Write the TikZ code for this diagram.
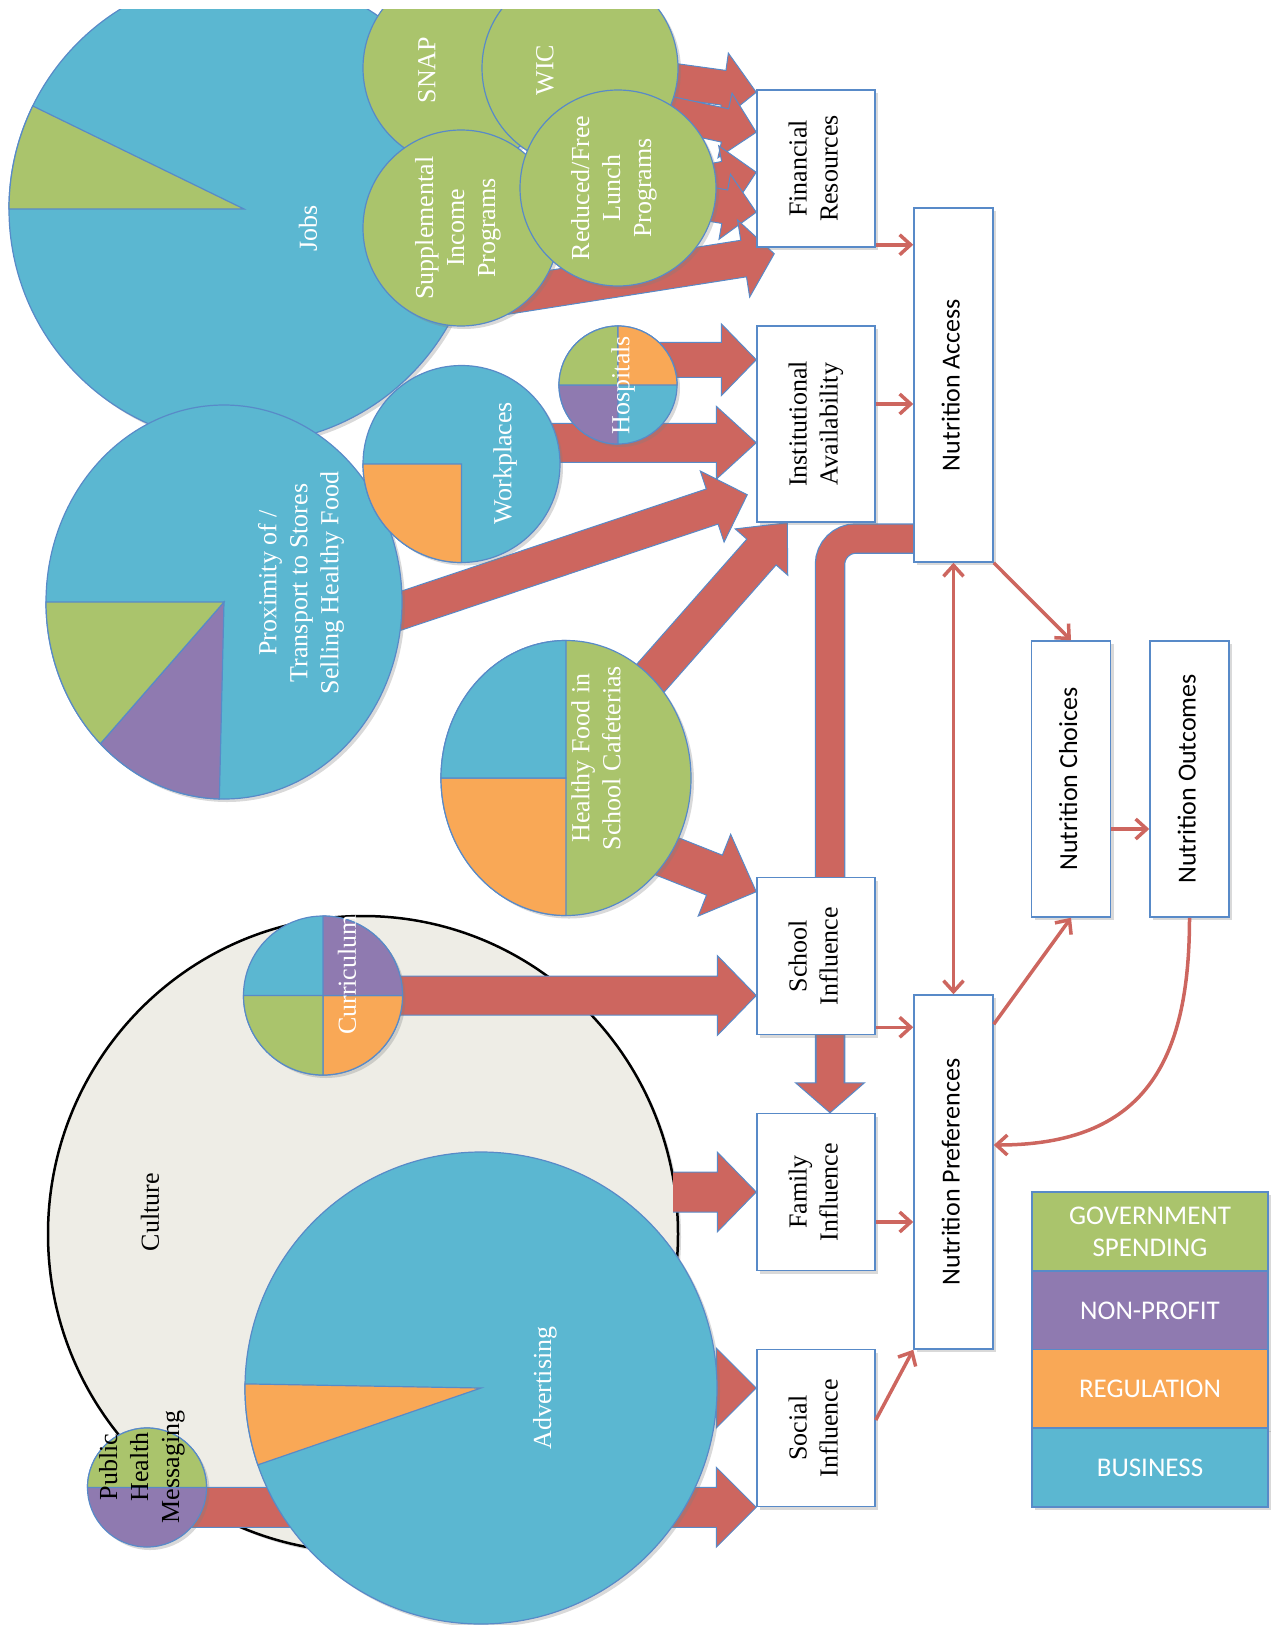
\documentclass[tikz,border=0pt]{standalone}
\usepackage{fontspec}
\setmainfont{Liberation Serif}
\newfontfamily\calfont{Carlito}
\usepackage{graphicx}
\usetikzlibrary{calc, shadows, arrows.meta}

\definecolor{bizblue}{RGB}{91,183,209}
\definecolor{govgreen}{RGB}{170,196,108}
\definecolor{npurple}{RGB}{143,122,176}
\definecolor{regorange}{RGB}{249,168,86}
\definecolor{flowred}{RGB}{205,102,95}
\definecolor{edgeblue}{RGB}{88,138,200}
\definecolor{culturegray}{RGB}{238,237,230}

\pgfdeclarelayer{base}
\pgfdeclarelayer{flows}
\pgfdeclarelayer{pies}
\pgfsetlayers{base,flows,pies,main}

\tikzset{shadowed/.style={drop shadow={opacity=.3, shadow xshift=3pt, shadow yshift=-3pt}}}

\newcommand{\vtext}[1]{\rotatebox{90}{\begin{tabular}{@{}c@{}}#1\end{tabular}}}

% tail, tip, shaft half width, head half width, head length
\newcommand{\blockarrow}[5]{%
  \coordinate (ba) at ($(#2)!#5pt!(#1)$);
  \filldraw[flow] ($(#1)!#3pt!90:(#2)$) -- ($(ba)!#3pt!90:(#2)$)
    -- ($(ba)!#4pt!90:(#2)$) -- (#2) -- ($(ba)!#4pt!-90:(#2)$)
    -- ($(ba)!#3pt!-90:(#2)$) -- ($(#1)!#3pt!-90:(#2)$);
}

\begin{document}
\begin{tikzpicture}[x=1pt, y=-1pt, font=\fontsize{26}{31}\selectfont,
  box/.style={draw=edgeblue, line width=1.5pt, fill=white, inner sep=0pt, minimum width=118pt, minimum height=157pt, shadowed},
  nbox/.style={box, minimum width=79pt, font=\calfont\fontsize{26}{31}\selectfont},
  key/.style={draw=edgeblue, line width=1.5pt, text=white, inner sep=0pt, minimum width=236pt, minimum height=79pt, align=center, shadowed, font=\calfont\fontsize{27}{32}\selectfont},
  pie/.style={draw=edgeblue, line width=1.2pt},
  pielabel/.style={text=white, rotate=90, align=center},
  flow/.style={fill=flowred, draw=edgeblue, line width=1pt},
  link/.style={draw=flowred, line width=3.5pt, ->},
  >={Straight Barb[length=11pt, width=20pt]}]
\useasboundingbox (0,0) rectangle (1273,1625);

\node[box] (fin) at (816,168.5) {\vtext{Financial\\Resources}};
\node[box, minimum height=196pt] (inst) at (816,424) {\vtext{Institutional\\Availability}};
\node[box] (school) at (816,956) {\vtext{School\\Influence}};
\node[box] (fam) at (816,1192) {\vtext{Family\\Influence}};
\node[box] (soc) at (816,1428) {\vtext{Social\\Influence}};
\node[nbox, minimum height=354pt] (acc) at (953.5,385) {\vtext{Nutrition Access}};
\node[nbox, minimum height=354pt] (pref) at (953.5,1172) {\vtext{Nutrition Preferences}};
\node[nbox, minimum height=276pt] (cho) at (1071,779) {\vtext{Nutrition Choices}};
\node[nbox, minimum height=276pt] (out) at (1189.5,779) {\vtext{Nutrition Outcomes}};

\node[key, fill=govgreen] (k-gov) at (1150,1231.5) {GOVERNMENT\\SPENDING};
\node[key, fill=npurple] (k-np) at (1150,1310.5) {NON-PROFIT};
\node[key, fill=regorange] (k-reg) at (1150,1389) {REGULATION};
\node[key, fill=bizblue] (k-bus) at (1150,1467.5) {BUSINESS};

\draw[link] ($(fin.south east)+(0,-3)$) coordinate (l1) -- (acc.west |- l1);
\draw[link] ($(inst.east)+(0,-20)$) coordinate (l2) -- (acc.west |- l2);
\draw[link] ($(school.south east)+(0,-8)$) coordinate (l3) -- (pref.west |- l3);
\draw[link] ($(fam.east)+(0,30)$) coordinate (l4) -- (pref.west |- l4);
\draw[link] ($(soc.east)+(0,-8)$) -- (pref.south west);
\draw[link, <->] (acc.south) -- (pref.north);
\draw[link] (acc.south east) -- (cho.north);
\draw[link] ($(pref.north east)+(0,30)$) -- (cho.south);
\draw[link] ($(cho.east)+(0,50)$) coordinate (l9) -- (out.west |- l9);
\draw[link] (out.south) .. controls +(0,145) and +(150,0) .. ($(pref.east)+(0,-27)$);

\coordinate (jobs) at (244,209);
\coordinate (snap) at (461,68);
\coordinate (wic) at (580,68);
\coordinate (supp) at (461,228);
\coordinate (lunch) at (618,188);
\coordinate (hosp) at (618,385);
\coordinate (work) at (461.5,464);
\coordinate (prox) at (224,602);
\coordinate (cafe) at (566,778);
\coordinate (curr) at (323,995.5);
\coordinate (culture) at (363,1234);
\coordinate (adv) at (481,1388);
\coordinate (ph) at (147,1487.5);

\coordinate (t-wic) at ($(fin.north west)+(0,3)$);
\coordinate (t-snap) at ($(fin.north west)+(0,43)$);
\coordinate (t-supp) at ($(fin.north west)+(0,83)$);
\coordinate (t-lunch) at ($(fin.north west)+(0,123)$);
\coordinate (t-jobs) at ($(fin.south west)+(18,6)$);
\coordinate (jobs-tail) at ($(jobs)+(0,128)$);
\coordinate (t-hosp) at ($(inst.north west)+(0,34.5)$);
\coordinate (hosp-tail) at (hosp |- t-hosp);
\coordinate (t-work) at ($(inst.north west)+(0,117.5)$);
\coordinate (work-tail) at (work |- t-work);
\coordinate (t-prox) at ($(inst.south west)+(-9,-28)$);
\coordinate (prox-tail) at ($(prox)+(0,68)$);
\coordinate (t-cafe1) at ($(inst.south west)+(31,0)$);
\coordinate (cafe-tail1) at ($(cafe)+(74,-88)$);
\coordinate (t-cafe2) at ($(school.north west)+(0,15)$);
\coordinate (cafe-tail2) at ($(cafe)+(70,66)$);
\coordinate (t-curr) at (school.west |- curr);
\coordinate (culture-edge) at ($(culture)+(310,-42)$);
\coordinate (t-adv) at ($(soc.west)+(0,-40)$);
\coordinate (adv-tail) at (adv |- t-adv);
\coordinate (ph-tail) at (ph |- soc.south west);
\coordinate (bend) at (830,538.5);
\coordinate (pipe-tail) at (bend |- school.south);
\coordinate (pipe-tip) at (bend |- fam.north);

\begin{pgfonlayer}{base}
\filldraw[draw=black, line width=2.5pt, fill=culturegray, shadowed] (culture) ellipse[x radius=315, y radius=318];
\node[rotate=90] (culture-l) at (150,1212) {Culture};
\end{pgfonlayer}

\begin{pgfonlayer}{flows}
\blockarrow{wic}{t-wic}{17.5}{35}{33}
\blockarrow{snap}{t-snap}{17}{33}{32}
\blockarrow{supp}{t-supp}{17}{33}{32}
\blockarrow{lunch}{t-lunch}{17}{33}{32}
\blockarrow{jobs-tail}{t-jobs}{18.5}{39}{31}
\blockarrow{hosp-tail}{t-hosp}{17.5}{36}{35}
\blockarrow{work-tail}{t-work}{19.5}{36.5}{40}
\blockarrow{prox-tail}{t-prox}{18.5}{37.5}{37}
\blockarrow{cafe-tail1}{t-cafe1}{19.5}{35}{39}
\blockarrow{cafe-tail2}{t-cafe2}{21.5}{44}{45}
\blockarrow{curr}{t-curr}{19.5}{40}{39}
\blockarrow{culture-edge}{fam.west}{20}{40}{39}
\blockarrow{adv-tail}{t-adv}{21}{40}{40}
\blockarrow{ph-tail}{soc.south west}{20}{40}{40}
\draw[edgeblue, line width=30.5pt, rounded corners=26pt] (acc.west |- bend) -- (bend) -- ($(pipe-tip)+(0,-28)$);
\draw[flowred, line width=28pt, rounded corners=26pt] (acc.west |- bend) -- (bend) -- ($(pipe-tip)+(0,-28)$);
\blockarrow{pipe-tail}{pipe-tip}{14}{34.5}{30}
\end{pgfonlayer}

\begin{pgfonlayer}{pies}
\begin{scope}
\clip (0,9) rectangle (1273,1625);
\filldraw[pie, fill=bizblue, shadowed] (jobs) circle[radius=235];
\filldraw[pie, fill=govgreen] (jobs) -- +(180:235) arc[start angle=180, end angle=206, radius=235] -- cycle;
\filldraw[pie, fill=govgreen, shadowed] (snap) circle[radius=98];
\filldraw[pie, fill=govgreen, shadowed] (wic) circle[radius=98];
\filldraw[pie, fill=govgreen, shadowed] (supp) circle[radius=98];
\filldraw[pie, fill=govgreen, shadowed] (lunch) circle[radius=98];
\end{scope}
\node[pielabel] (jobs-l) at (308,228) {Jobs};
\node[pielabel] (snap-l) at (427,70) {SNAP};
\node[pielabel] (wic-l) at (545,70) {WIC};
\node[pielabel] (supp-l) at (458,228) {Supplemental\\Income\\Programs};
\node[pielabel] (lunch-l) at (614,188) {Reduced/Free\\Lunch\\Programs};

\filldraw[pie, fill=bizblue, shadowed] (prox) ellipse[x radius=178, y radius=197];
\filldraw[pie, fill=npurple] (prox) -- +(91.5:178 and 197) arc[start angle=91.5, end angle=134, x radius=178, y radius=197] -- cycle;
\filldraw[pie, fill=govgreen] (prox) -- +(134:178 and 197) arc[start angle=134, end angle=180, x radius=178, y radius=197] -- cycle;
\node[pielabel] (prox-l) at (301,583) {Proximity of /\\Transport to Stores\\Selling Healthy Food};

\filldraw[pie, fill=bizblue, shadowed] (work) circle[radius=98.5];
\filldraw[pie, fill=regorange] (work) -- +(90:98.5) arc[start angle=90, end angle=180, radius=98.5] -- cycle;
\node[pielabel] (work-l) at (505,463) {Workplaces};

\filldraw[pie, fill=bizblue, shadowed] (hosp) circle[radius=59];
\filldraw[pie, fill=npurple] (hosp) -- +(90:59) arc[start angle=90, end angle=180, radius=59] -- cycle;
\filldraw[pie, fill=govgreen] (hosp) -- +(180:59) arc[start angle=180, end angle=270, radius=59] -- cycle;
\filldraw[pie, fill=regorange] (hosp) -- +(270:59) arc[start angle=270, end angle=360, radius=59] -- cycle;
\node[pielabel] (hosp-l) at (623,385) {Hospitals};

\filldraw[pie, fill=govgreen, shadowed] (cafe) ellipse[x radius=125, y radius=137.5];
\filldraw[pie, fill=regorange] (cafe) -- +(90:125 and 137.5) arc[start angle=90, end angle=180, x radius=125, y radius=137.5] -- cycle;
\filldraw[pie, fill=bizblue] (cafe) -- +(180:125 and 137.5) arc[start angle=180, end angle=270, x radius=125, y radius=137.5] -- cycle;
\node[pielabel] (cafe-l) at (596,758) {Healthy Food in\\School Cafeterias};

\filldraw[pie, fill=bizblue, shadowed] (curr) circle[radius=79.5];
\filldraw[pie, fill=regorange] (curr) -- +(0:79.5) arc[start angle=0, end angle=90, radius=79.5] -- cycle;
\filldraw[pie, fill=govgreen] (curr) -- +(90:79.5) arc[start angle=90, end angle=180, radius=79.5] -- cycle;
\filldraw[pie, fill=npurple] (curr) -- +(270:79.5) arc[start angle=270, end angle=360, radius=79.5] -- cycle;
\node[pielabel] (curr-l) at (347,975) {Curriculum};

\filldraw[pie, fill=bizblue, shadowed] (adv) circle[radius=236];
\filldraw[pie, fill=regorange] (adv) -- +(161:236) arc[start angle=161, end angle=181, radius=236] -- cycle;
\node[pielabel] (adv-l) at (545,1388) {Advertising};

\filldraw[pie, fill=npurple, shadowed] (ph) circle[radius=59.5];
\filldraw[pie, fill=govgreen] (ph) -- +(180:59.5) arc[start angle=180, end angle=360, radius=59.5] -- cycle;
\node[rotate=90, align=center] (ph-l) at (142,1467) {Public\\Health\\Messaging};
\end{pgfonlayer}
\end{tikzpicture}
\end{document}
